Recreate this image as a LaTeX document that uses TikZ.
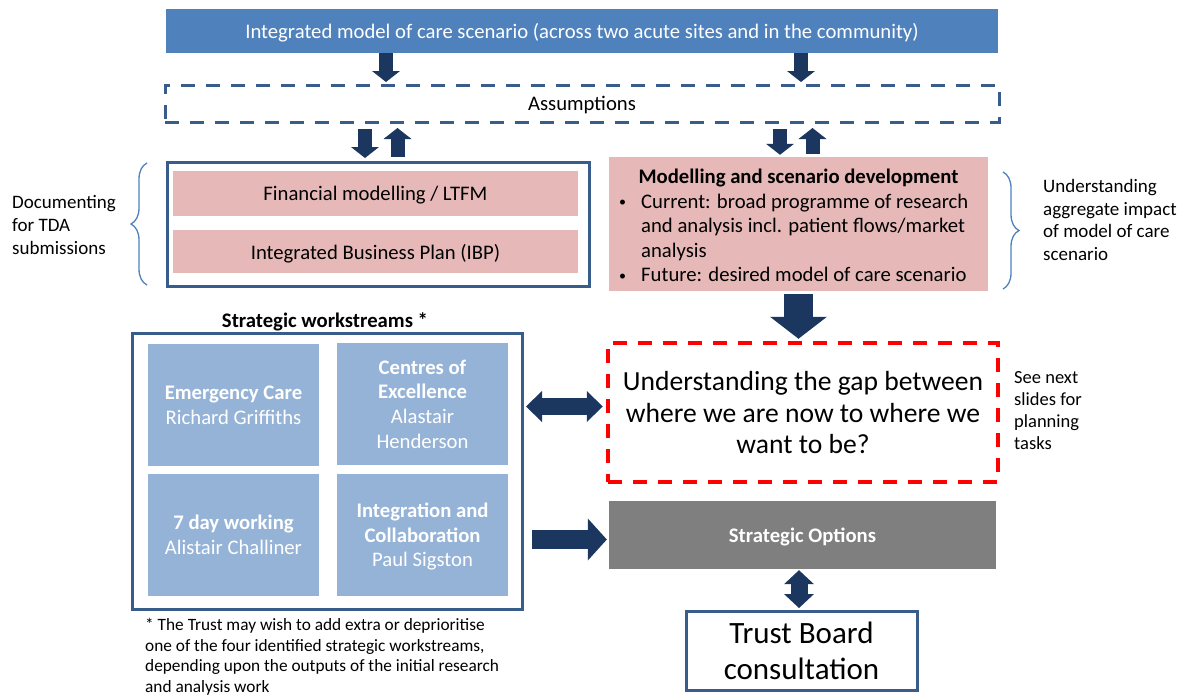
\documentclass[tikz,border=0pt]{standalone}
\usepackage{fontspec}
\setmainfont{Carlito}
\usetikzlibrary{arrows.meta,decorations.pathreplacing}

\definecolor{barblue}{HTML}{4F81BD}
\definecolor{frameblue}{HTML}{385D8A}
\definecolor{arrownavy}{HTML}{1B375F}
\definecolor{pinkfill}{HTML}{E6B9B8}
\definecolor{wsblue}{HTML}{95B3D7}
\definecolor{optgray}{HTML}{7F7F7F}

\newcommand{\fsz}[2]{\fontsize{#1}{#2}\selectfont}
\newcommand{\smallbullet}{\makebox[22pt][l]{\raisebox{1.6pt}{\fsz{14}{14}\textbullet}}}

\begin{document}
\begin{tikzpicture}[x=1pt,y=-1pt,
  every node/.style={text depth=0pt},
  framebox/.style={draw=frameblue, line width=3pt, fill=white, inner sep=0pt},
  pinkbox/.style={fill=pinkfill, inner sep=0pt, font=\fsz{20.7}{24.5}},
  wsbox/.style={fill=wsblue, text=white, align=center, inner sep=0pt,
    minimum width=171pt, minimum height=122pt, font=\fsz{20.7}{24.6}},
  plain/.style={inner sep=0pt, align=left},
  dashframe/.style={line width=3pt, dash pattern=on 14pt off 11pt, inner sep=0pt},
  bracestyle/.style={draw=barblue, line width=1.3pt, decorate},
  barrow/.style={draw=arrownavy, line width=14pt,
    -{Triangle[width=28pt,length=11pt,line width=0pt]}},
  bigarrow/.style={draw=arrownavy, line width=29pt,
    -{Triangle[width=57pt,length=22pt,line width=0pt]}},
  sidearrow/.style={draw=arrownavy, line width=19pt,
    -{Triangle[width=42pt,length=19pt,line width=0pt]}},
  hdouble/.style={draw=arrownavy, line width=17pt,
    {Triangle[width=31pt,length=16pt,line width=0pt]}-{Triangle[width=31pt,length=16pt,line width=0pt]}},
  vdouble/.style={draw=arrownavy, line width=17pt,
    {Triangle[width=30pt,length=14pt,line width=0pt]}-{Triangle[width=30pt,length=14pt,line width=0pt]}}
]
\useasboundingbox (0,0) rectangle (1186,697);

% banner and assumptions
\node[fill=barblue, text=white, minimum width=832pt, minimum height=44pt,
  inner sep=0pt, font=\fsz{20.7}{25}] (top) at (582,31)
  {Integrated model of care scenario (across two acute sites and in the community)};
\node[dashframe, draw=frameblue, minimum width=834pt, minimum height=37pt,
  font=\fsz{20.7}{25}] (assume) at (582,103.5) {Assumptions};

% financial documents
\node[framebox, minimum width=422pt, minimum height=124pt] (finbox) at (378,224) {};
\node[pinkbox, minimum width=405pt, minimum height=45pt] (finm) at (375.5,193.5)
  {Financial modelling / LTFM};
\node[pinkbox, minimum width=405pt, minimum height=43pt] (ibp) at (375.5,251.5)
  {Integrated Business Plan (IBP)};

% modelling and scenario development
\node[fill=pinkfill, minimum width=379pt, minimum height=134pt, inner sep=0pt] (model)
  at (798.5,224) {};
\node[inner sep=0pt, font=\bfseries\fsz{20.7}{24.5}] (modtitle) at (798.5,176)
  {Modelling and scenario development};
\node[plain, anchor=west, font=\fsz{20.7}{24.5}] (modlist) at (619,238)
  {\smallbullet Current: broad programme of research\\
   \hspace*{22pt}and analysis incl. patient flows/market\\
   \hspace*{22pt}analysis\\
   \smallbullet Future: desired model of care scenario};

% side notes and braces
\node[plain, anchor=west, font=\fsz{19}{22.6}] (doc) at (12,225)
  {Documenting\\for TDA\\submissions};
\draw[bracestyle, decoration={brace, amplitude=16pt}] (147,285) -- (147,163);
\node[plain, anchor=west, font=\fsz{19}{22.7}] (aggr) at (1043,220)
  {Understanding\\aggregate impact\\of model of care\\scenario};
\draw[bracestyle, decoration={brace, amplitude=16pt}] (1003,172) -- (1003,289);

% gap statement
\node[dashframe, draw=red, line width=3.5pt, minimum width=390pt, minimum height=139pt,
  align=center, font=\fsz{27.6}{31.5}] (gap) at (803,412.5)
  {Understanding the gap between\\where we are now to where we\\want to be?};
\node[plain, anchor=west, font=\fsz{18.5}{22}] (seenext) at (1014,410)
  {See next\\slides for\\planning\\tasks};

% strategic workstreams
\node[inner sep=0pt, font=\bfseries\fsz{20.7}{24}] (wslabel) at (325,320)
  {Strategic workstreams *};
\node[framebox, minimum width=390pt, minimum height=276pt] (ws) at (327,471) {};
\node[wsbox] (ec) at (233.5,405) {\textbf{Emergency Care}\\Richard Griffiths};
\node[wsbox] (coe) at (422.5,404)
  {\textbf{Centres of}\\\textbf{Excellence}\\Alastair\\Henderson};
\node[wsbox] (sd) at (233.5,535) {\textbf{7 day working}\\Alistair Challiner};
\node[wsbox] (ic) at (422.5,535)
  {\textbf{Integration and}\\\textbf{Collaboration}\\Paul Sigston};
\node[plain, anchor=west, font=\fsz{17.3}{20.6}] (note) at (145,655.5)
  {* The Trust may wish to add extra or deprioritise\\
   one of the four identified strategic workstreams,\\
   depending upon the outputs of the initial research\\
   and analysis work};

% options and board
\node[fill=optgray, text=white, minimum width=387pt, minimum height=68pt, inner sep=0pt,
  font=\bfseries\fsz{20.7}{24}] (so) at (802.5,535) {Strategic Options};
\node[framebox, minimum width=231pt, minimum height=79pt, align=center,
  font=\fsz{31}{36}] (tb) at (801.5,650.5) {Trust Board\\consultation};

% arrow columns and rows
\coordinate (cA) at (386,0);
\coordinate (cB) at (801,0);
\coordinate (cC) at (365,0);
\coordinate (cD) at (397.5,0);
\coordinate (cE) at (780,0);
\coordinate (cF) at (812.5,0);
\coordinate (cG) at (799,0);
\coordinate (rA) at (0,406.5);
\coordinate (rB) at (0,539.5);

% connectors
\draw[barrow, shorten >=1.5pt] (top.south -| cA) -- (assume.north -| cA);
\draw[barrow, shorten >=1.5pt] (top.south -| cB) -- (assume.north -| cB);
\draw[barrow, shorten <=5.5pt, shorten >=2.5pt] (assume.south -| cC) -- (finbox.north -| cC);
\draw[barrow, shorten <=3.5pt, shorten >=4.5pt] (finbox.north -| cD) -- (assume.south -| cD);
\draw[barrow, shorten <=5.5pt, shorten >=2pt] (assume.south -| cE) -- (model.north -| cE);
\draw[barrow, shorten <=3pt, shorten >=4.5pt] (model.north -| cF) -- (assume.south -| cF);
\draw[bigarrow, shorten <=3pt, shorten >=2.5pt] (model.south) -- (model.south |- gap.north);
\draw[hdouble, shorten <=2.5pt, shorten >=3.5pt] (ws.east |- rA) -- (gap.west |- rA);
\draw[sidearrow, shorten <=8.5pt, shorten >=2pt] (ws.east |- rB) -- (so.west |- rB);
\draw[vdouble, shorten <=1pt, shorten >=1.5pt] (so.south -| cG) -- (tb.north -| cG);
\end{tikzpicture}
\end{document}
